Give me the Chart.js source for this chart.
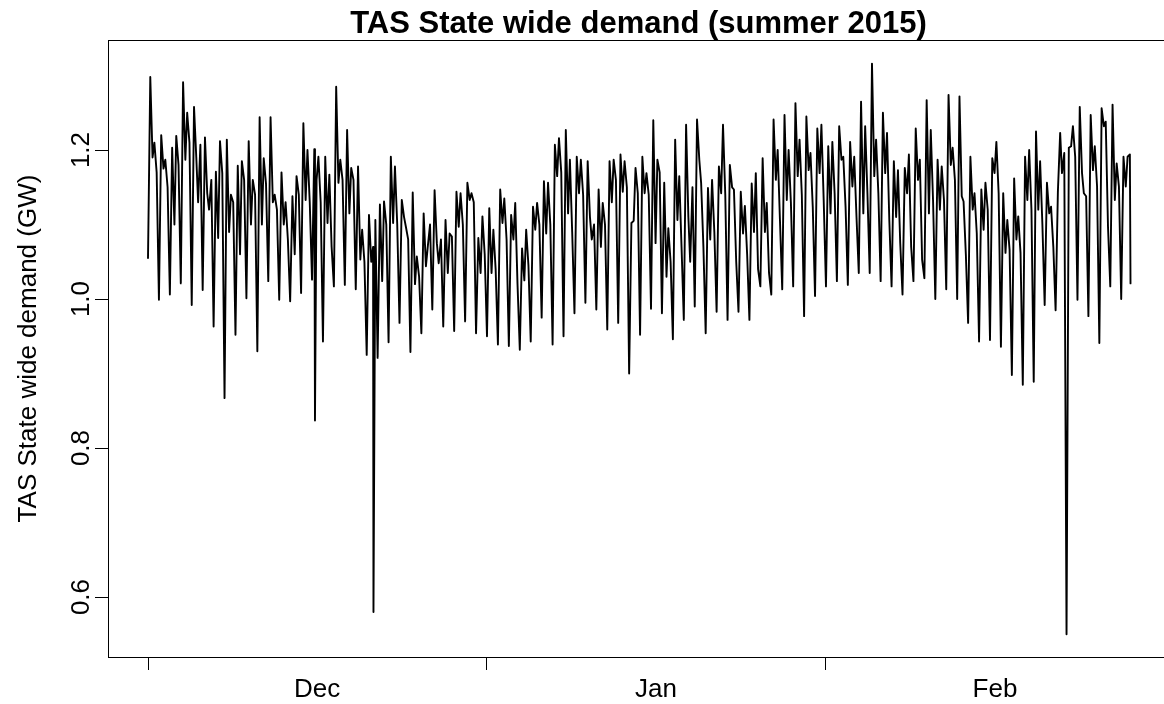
<!DOCTYPE html>
<html>
<head>
<meta charset="utf-8">
<script src="https://cdn.jsdelivr.net/npm/chart.js@4.4.1/dist/chart.umd.min.js"></script>
<style>
  html, body { margin: 0; padding: 0; background: #fff; overflow: hidden; }
  #wrap { width: 1180px; height: 704px; }
</style>
</head>
<body>
<div id="wrap"><canvas id="demand" width="1180" height="704"></canvas></div>
<script>
// TAS state-wide demand (GW), summer 2014/15, five readings per day
// (overnight low, morning peak, midday, afternoon peak, evening).
// Day 0 = 1 Dec.
const sampleHours = [0, 5, 10, 14, 19];

const overnightLow = [
  1.055, 0.999, 1.006, 1.021, 0.992, 1.012, 0.963, 0.867, 0.952, 1.001,
  0.930, 1.024, 0.999, 0.997, 1.008, 1.026, 0.943, 1.017, 1.019, 1.013,
  0.925, 0.921, 0.942, 0.968, 0.929, 0.954, 0.986, 0.963, 0.957, 0.970,
  0.954, 0.950, 0.939, 0.937, 0.932, 0.943, 0.975, 0.939, 0.950, 0.981,
  0.995, 0.986, 0.959, 0.968, 0.900, 0.952, 0.987, 0.981, 0.946, 0.972,
  0.990, 0.954, 0.983, 0.972, 0.983, 0.972, 1.017, 1.006, 1.013, 1.017,
  0.977, 1.004, 1.017, 1.024, 1.019, 1.035, 1.035, 1.024, 1.017, 1.006,
  1.024, 1.028, 1.000, 1.013, 1.000, 0.968, 0.943, 0.945, 0.936, 0.898,
  0.885, 0.889, 0.992, 0.985, 0.550, 0.999, 0.977, 0.941, 1.017, 1.000
];
const morningPeak = [
  1.298, 1.220, 1.203, 1.291, 1.258, 1.217, 1.171, 1.214, 1.179, 1.212,
  1.244, 1.244, 1.170, 1.138, 1.236, 1.201, 1.191, 1.285, 1.227, 1.178,
  1.113, 1.127, 1.191, 1.133, 1.143, 1.115, 1.146, 1.106, 1.144, 1.156,
  1.082, 1.122, 1.147, 1.113, 1.068, 1.124, 1.158, 1.207, 1.227, 1.191,
  1.185, 1.147, 1.185, 1.194, 1.102, 1.191, 1.240, 1.156, 1.214, 1.234,
  1.241, 1.149, 1.178, 1.180, 1.144, 1.155, 1.189, 1.241, 1.247, 1.263,
  1.245, 1.229, 1.205, 1.232, 1.211, 1.265, 1.316, 1.250, 1.185, 1.176,
  1.229, 1.267, 1.187, 1.274, 1.272, 1.191, 1.147, 1.189, 1.142, 1.162,
  1.191, 1.225, 1.156, 1.144, 1.203, 1.258, 1.247, 1.256, 1.261, 1.191
];
const middayLevel = [
  1.190, 1.175, 1.100, 1.187, 1.190, 1.142, 1.082, 1.090, 1.060, 1.100,
  1.100, 1.130, 1.100, 1.060, 1.133, 1.160, 1.102, 1.156, 1.115, 1.053,
  1.050, 1.024, 1.102, 1.110, 1.020, 1.044, 1.075, 1.035, 1.097, 1.133,
  1.035, 1.035, 1.102, 1.080, 1.025, 1.093, 1.088, 1.165, 1.115, 1.142,
  1.110, 1.070, 1.130, 1.144, 1.105, 1.142, 1.075, 1.030, 1.106, 1.110,
  1.187, 1.080, 1.142, 1.150, 1.088, 1.090, 1.090, 1.160, 1.133, 1.165,
  1.173, 1.169, 1.115, 1.187, 1.151, 1.115, 1.165, 1.169, 1.110, 1.142,
  1.160, 1.115, 1.120, 1.180, 1.138, 1.120, 1.093, 1.169, 1.062, 1.080,
  1.133, 1.120, 1.115, 1.223, 1.205, 1.169, 1.173, 1.232, 1.133, 1.151
];
const afternoonPeak = [
  1.210, 1.187, 1.219, 1.250, 1.130, 1.120, 1.212, 1.140, 1.185, 1.160,
  1.189, 1.140, 1.130, 1.165, 1.200, 1.191, 1.167, 1.187, 1.176, 1.093,
  1.070, 1.131, 1.178, 1.097, 1.057, 1.070, 1.048, 1.088, 1.142, 1.142,
  1.111, 1.093, 1.135, 1.129, 1.093, 1.129, 1.156, 1.216, 1.187, 1.187,
  1.080, 1.129, 1.187, 1.185, 1.176, 1.169, 1.187, 1.095, 1.165, 1.050,
  1.156, 1.160, 1.234, 1.147, 1.125, 1.169, 1.129, 1.200, 1.200, 1.214,
  1.196, 1.234, 1.211, 1.191, 1.191, 1.232, 1.214, 1.223, 1.173, 1.194,
  1.187, 1.227, 1.178, 1.203, 1.131, 1.142, 1.156, 1.211, 1.106, 1.111,
  1.200, 1.185, 1.124, 1.169, 1.232, 1.142, 1.205, 1.238, 1.182, 1.191
];
const eveningLevel = [
  1.170, 1.150, 1.180, 1.210, 1.207, 1.160, 1.169, 1.130, 1.160, 1.140,
  1.155, 1.120, 1.080, 1.140, 1.130, 1.130, 1.070, 1.160, 1.160, 1.050,
  1.106, 1.100, 1.100, 1.080, 1.030, 1.100, 1.080, 1.084, 1.100, 1.130,
  1.060, 1.040, 1.080, 1.020, 1.045, 1.100, 1.100, 1.170, 1.090, 1.140,
  1.100, 1.100, 1.160, 1.150, 1.142, 1.140, 1.170, 1.050, 1.070, 1.150,
  1.070, 1.090, 1.140, 1.050, 1.060, 1.040, 1.035, 1.106, 1.130, 1.140,
  1.124, 1.133, 1.142, 1.124, 1.110, 1.142, 1.142, 1.106, 1.075, 1.070,
  1.053, 1.133, 1.133, 1.160, 1.060, 1.088, 1.120, 1.142, 1.066, 1.062,
  1.120, 1.100, 1.070, 1.196, 1.191, 1.138, 1.151, 1.097, 1.151, 1.194
];

// brief drops between the regular readings: [day, GW]
const dropouts = [[15.27, 0.837], [20.62, 0.58]];
const lastReading = [89.85, 1.021];

const monthStarts = [0, 31, 62];
const monthLabelDays = [15.46, 46.46, 77.46];
const monthLabels = ['Dec', 'Jan', 'Feb'];
const yTicks = [0.6, 0.8, 1.0, 1.2];

const titleText = 'TAS State wide demand (summer 2015)';
const yTitle = 'TAS State wide demand (GW)';
const FONT = '"Liberation Sans", Arial, Helvetica, sans-serif';

const points = [];
overnightLow.forEach((low, d) => {
  const day = [low, morningPeak[d], middayLevel[d], afternoonPeak[d], eveningLevel[d]];
  day.forEach((v, i) => points.push({ x: d + sampleHours[i] / 24, y: v }));
});
dropouts.forEach(([x, y]) => points.push({ x, y }));
points.push({ x: lastReading[0], y: lastReading[1] });
points.sort((a, b) => a.x - b.x);

// box round the plot, title and the upright y labels
const frame = {
  id: 'frame',
  afterDraw(chart) {
    const { ctx, chartArea: a } = chart;
    const y = chart.scales.y;
    ctx.save();
    ctx.strokeStyle = '#000';
    ctx.lineWidth = 1;
    ctx.strokeRect(Math.round(a.left) + 0.5, Math.round(a.top) + 0.5,
                   Math.round(a.right - a.left), Math.round(a.bottom - a.top));

    ctx.fillStyle = '#000';
    ctx.textAlign = 'center';
    ctx.textBaseline = 'alphabetic';
    ctx.font = 'bold 31px ' + FONT;
    ctx.fillText(titleText, (a.left + a.right) / 2, 33);

    ctx.font = '26px ' + FONT;
    yTicks.forEach(v => {
      ctx.save();
      ctx.translate(89, y.getPixelForValue(v));
      ctx.rotate(-Math.PI / 2);
      ctx.fillText(v.toFixed(1), 0, 0);
      ctx.restore();
    });
    ctx.translate(36, (a.top + a.bottom) / 2);
    ctx.rotate(-Math.PI / 2);
    ctx.fillText(yTitle, 0, 0);
    ctx.restore();
  }
};

new Chart(document.getElementById('demand'), {
  type: 'line',
  data: {
    datasets: [{
      data: points,
      borderColor: '#000',
      borderWidth: 1.9,
      borderJoinStyle: 'round',
      borderCapStyle: 'round',
      pointRadius: 0,
      tension: 0,
      fill: false
    }]
  },
  options: {
    responsive: false,
    animation: false,
    devicePixelRatio: 1,
    layout: { padding: { top: 40, left: 0, right: 11, bottom: 0 } },
    plugins: {
      legend: { display: false },
      tooltip: { enabled: false },
      title: { display: false }
    },
    scales: {
      x: {
        type: 'linear',
        min: -3.658,
        max: 93.37,
        afterBuildTicks: s => {
          s.ticks = monthStarts.concat(monthLabelDays).sort((p, q) => p - q).map(v => ({ value: v }));
        },
        ticks: {
          autoSkip: false,
          maxRotation: 0,
          padding: 4,
          color: '#000',
          font: { family: FONT, size: 26 },
          callback: v => {
            const i = monthLabelDays.indexOf(v);
            return i >= 0 ? monthLabels[i] : '';
          }
        },
        grid: {
          drawOnChartArea: false,
          drawTicks: true,
          tickLength: 13,
          tickWidth: 1,
          tickColor: c => monthStarts.includes(c.tick.value) ? '#000' : 'rgba(0,0,0,0)'
        },
        border: { display: true, color: '#000', width: 1 },
        afterFit: s => { s.height = 47; }
      },
      y: {
        min: 0.5195,
        max: 1.3477,
        afterBuildTicks: s => { s.ticks = yTicks.map(v => ({ value: v })); },
        ticks: { display: false },
        grid: {
          drawOnChartArea: false,
          drawTicks: true,
          tickLength: 13,
          tickWidth: 1,
          tickColor: '#000'
        },
        border: { display: true, color: '#000', width: 1 },
        afterFit: s => { s.width = 108; }
      }
    }
  },
  plugins: [frame]
});
</script>
</body>
</html>
